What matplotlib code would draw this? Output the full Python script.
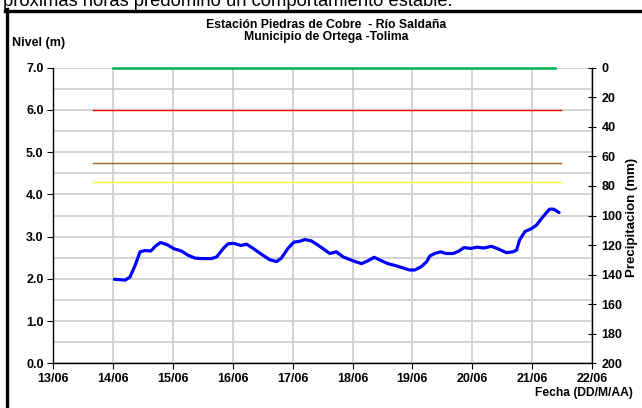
import matplotlib
matplotlib.use("Agg")
import matplotlib.pyplot as plt
from matplotlib.lines import Line2D

plt.rcParams['font.family'] = ['Liberation Sans', 'DejaVu Sans']

# ---- data ----
day_labels = ["13/06", "14/06", "15/06", "16/06", "17/06", "18/06", "19/06", "20/06", "21/06", "22/06"]
# time in days since 13/06 00:00
t_days = [1.02, 1.20, 1.28, 1.37, 1.45, 1.53, 1.63, 1.71, 1.79, 1.90, 2.02, 2.14, 2.25, 2.37,
          2.48, 2.64, 2.73, 2.84, 2.92, 3.02, 3.13, 3.23, 3.34, 3.48, 3.62, 3.73, 3.81, 3.92,
          4.02, 4.12, 4.20, 4.31, 4.42, 4.54, 4.62, 4.73, 4.84, 4.95, 5.04, 5.15, 5.26, 5.36,
          5.48, 5.59, 5.70, 5.84, 5.95, 6.04, 6.15, 6.24, 6.29, 6.37, 6.47, 6.56, 6.68, 6.78,
          6.86, 6.97, 7.08, 7.19, 7.32, 7.43, 7.57, 7.68, 7.74, 7.79, 7.88, 7.99, 8.07, 8.18,
          8.29, 8.36, 8.45]
nivel = [1.99, 1.97, 2.04, 2.33, 2.64, 2.67, 2.66, 2.78, 2.86, 2.81, 2.71, 2.66, 2.56, 2.49,
         2.48, 2.48, 2.52, 2.72, 2.83, 2.84, 2.79, 2.82, 2.72, 2.58, 2.45, 2.41, 2.49, 2.72,
         2.87, 2.89, 2.93, 2.90, 2.80, 2.68, 2.60, 2.64, 2.52, 2.46, 2.41, 2.36, 2.43, 2.51,
         2.43, 2.36, 2.32, 2.26, 2.21, 2.21, 2.29, 2.41, 2.54, 2.60, 2.64, 2.60, 2.60, 2.66,
         2.74, 2.72, 2.75, 2.73, 2.77, 2.71, 2.62, 2.64, 2.68, 2.92, 3.12, 3.19, 3.27, 3.47,
         3.65, 3.65, 3.57]
# threshold levels (m) and their time extents (days)
umbral_verde = 7.0
umbral_rojo = 6.0
umbral_naranja = 4.75
umbral_amarillo = 4.3
verde_t = [1.0, 8.39]
otros_t = [0.67, 8.49]

fig = plt.figure(figsize=(6.42, 4.08), dpi=100)
fig.patch.set_facecolor('white')

# surrounding document frame and cropped text
fig.add_artist(Line2D([6.5 / 642, 6.5 / 642], [0, 1 - 9 / 408], transform=fig.transFigure,
                      color='black', lw=2.4))
fig.add_artist(Line2D([5 / 642, 1], [1 - 10.5 / 408, 1 - 10.5 / 408], transform=fig.transFigure,
                      color='black', lw=2.4))
fig.text(3 / 642, 1 - 5.5 / 408, "próximas horas predominó un comportamiento estable.",
         fontsize=13.2, va='baseline', ha='left')

ax = fig.add_axes([53.3 / 642, 1 - 363.3 / 408, (592 - 53.3) / 642, (363.3 - 67.7) / 408])
ax.set_xlim(0, 9)
ax.set_ylim(0, 7)

ax.set_xticks(range(len(day_labels)))
ax.set_xticklabels(day_labels)
ax.set_yticks([i * 1.0 for i in range(8)])
ax.set_yticklabels([f"{i:.1f}" for i in range(8)])
ax.set_yticks([i + 0.5 for i in range(7)], minor=True)

ax.grid(True, which='major', axis='both', color='#d0d0d0', lw=1.3, zorder=0)
ax.grid(True, which='minor', axis='y', color='#d0d0d0', lw=1.3, zorder=0)
ax.tick_params(axis='y', which='minor', length=0)
ax.tick_params(axis='both', which='major', labelsize=9, width=0.8, length=4, direction='out',
               colors='black', pad=3)
for lbl in ax.get_xticklabels() + ax.get_yticklabels():
    lbl.set_fontweight('bold')

ax.spines['top'].set_visible(False)
ax.spines['right'].set_visible(False)
ax.spines['left'].set_linewidth(1.0)
ax.spines['bottom'].set_linewidth(1.0)

ax.plot(verde_t, [umbral_verde] * 2, color='#00b050', lw=1.8, zorder=3, clip_on=False)
ax.plot(otros_t, [umbral_rojo] * 2, color='#ff0000', lw=1.0, zorder=3)
ax.plot(otros_t, [umbral_naranja] * 2, color='#a0612d', lw=1.0, zorder=3)
ax.plot(otros_t, [umbral_amarillo] * 2, color='#ffff33', lw=1.0, zorder=3)
ax.plot(t_days, nivel, color='#0000ff', lw=2.3, zorder=4, solid_capstyle='round',
        solid_joinstyle='round')

ax2 = ax.twinx()
ax2.set_ylim(200, 0)
ax2.set_yticks(range(0, 201, 20))
ax2.tick_params(axis='y', labelsize=9, width=0.8, length=6, direction='inout', pad=4)
for lbl in ax2.get_yticklabels():
    lbl.set_fontweight('bold')
for s in ['top', 'left', 'bottom']:
    ax2.spines[s].set_visible(False)
ax2.spines['right'].set_linewidth(1.0)

fig.text(326 / 642, 1 - 31 / 408, "Estación Piedras de Cobre  - Río Saldaña\nMunicipio de Ortega -Tolima",
         ha='center', va='center', fontsize=8.8, fontweight='bold', linespacing=1.05)
fig.text(12 / 642, 1 - 43 / 408, "Nivel (m)", ha='left', va='center', fontsize=9, fontweight='bold')
fig.text(632.5 / 642, 1 - 217 / 408, "Precipitacion (mm)", ha='center', va='center', fontsize=9.5,
         fontweight='bold', rotation=90)
fig.text(633 / 642, 1 - 393 / 408, "Fecha (DD/M/AA)", ha='right', va='center', fontsize=8.7,
         fontweight='bold')

fig.savefig("out.png", dpi=100)
